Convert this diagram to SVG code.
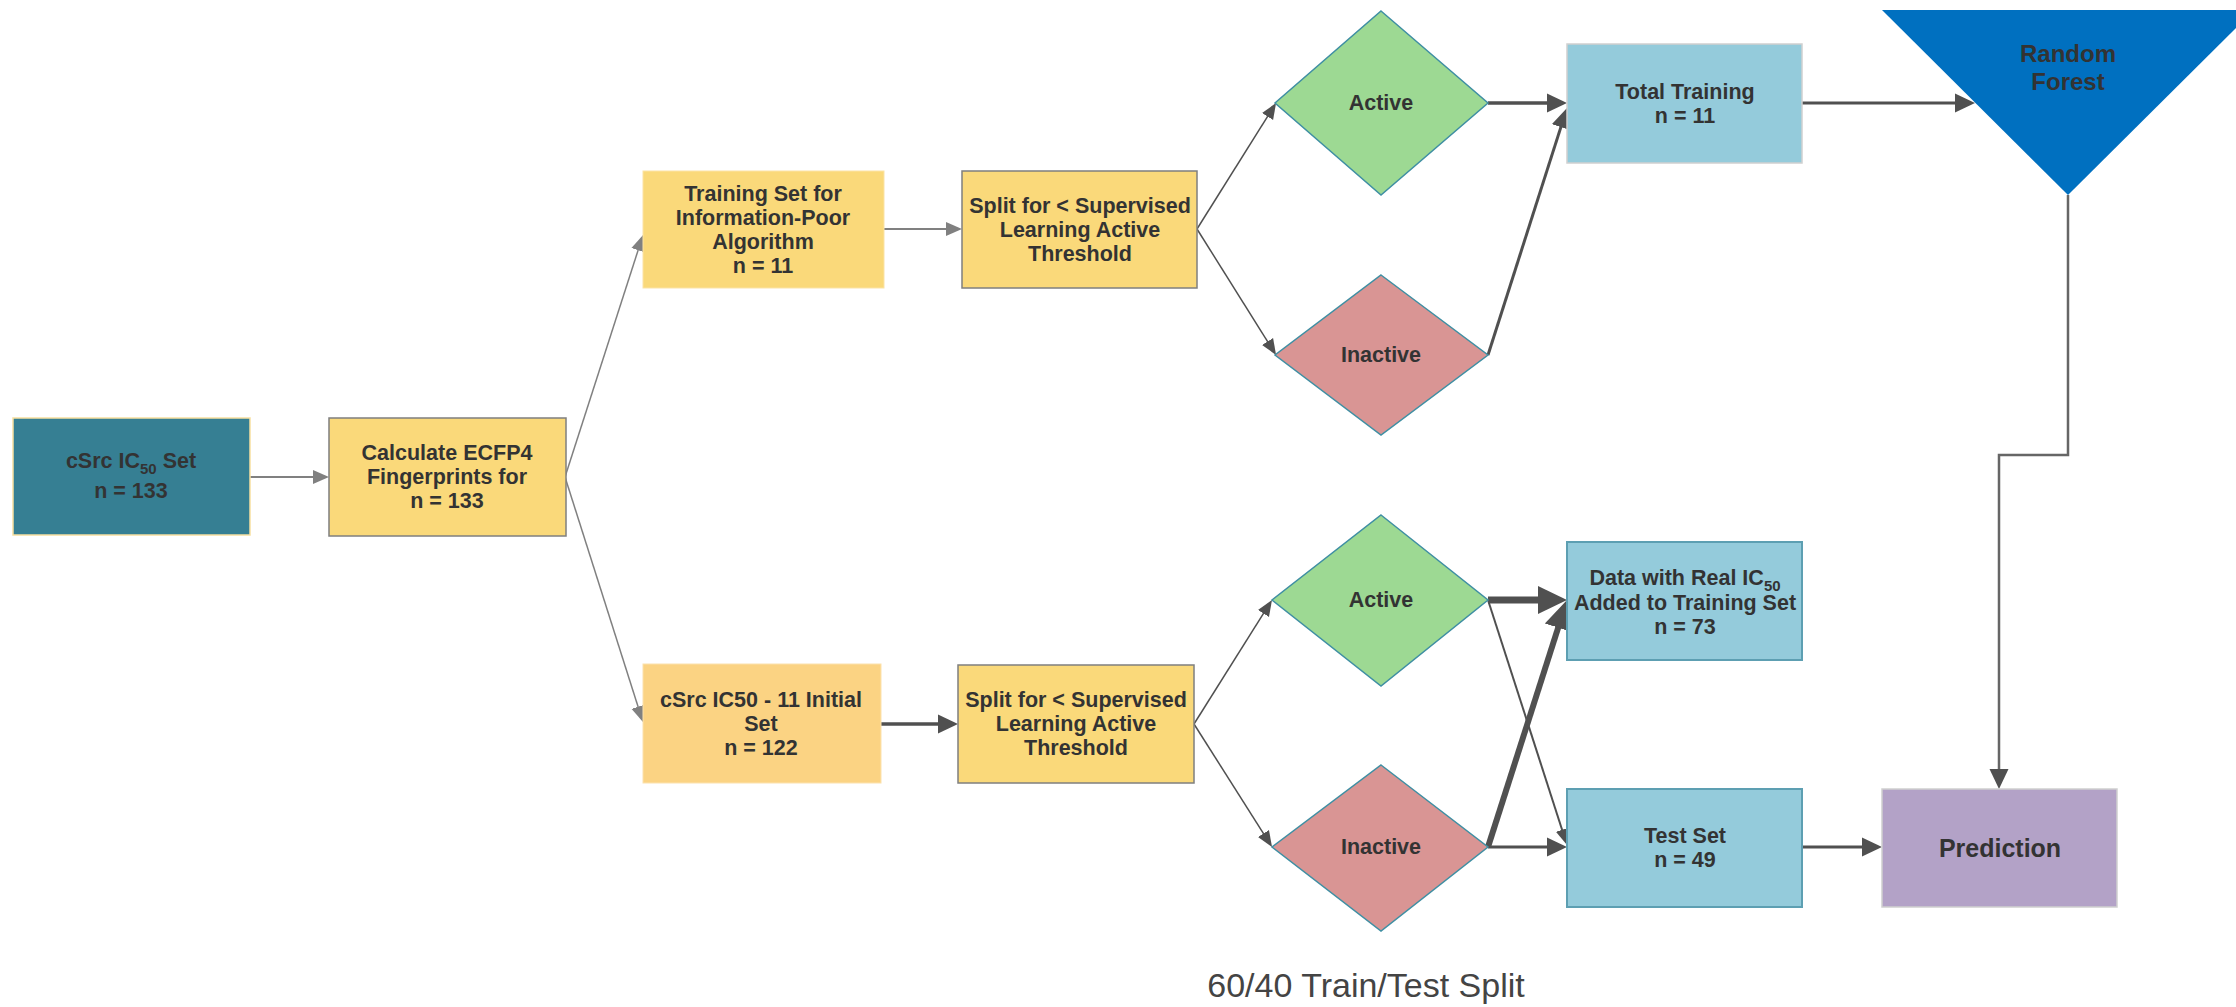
<svg xmlns="http://www.w3.org/2000/svg" width="2236" height="1007" viewBox="0 0 2236 1007">
<defs>
<style>
.t{font-family:"Liberation Sans",Arial,Helvetica,sans-serif;font-weight:bold;font-size:21.5px;fill:#333333;text-anchor:middle}
.sub{font-size:15px}
.big{font-size:25px}
.rf{font-size:24px}
.note{font-family:"Liberation Sans",Arial,Helvetica,sans-serif;font-size:34px;fill:#444444;text-anchor:middle}
.yb{fill:#fad97a}
.gs{stroke:#7f7f7f;stroke-width:1.5}
.lb{fill:#94cbdb}
.dia{stroke:#3f8fa3;stroke-width:1.5}
.c{fill:none}
.g{stroke:#808080}
.d{stroke:#505050}
</style>
<marker id="gS" markerUnits="userSpaceOnUse" viewBox="0 -8 17 16" markerWidth="17" markerHeight="16" refX="1" refY="0" orient="auto"><path d="M0,-7 L16,0 L0,7 z" fill="#808080"/></marker>
<marker id="dS" markerUnits="userSpaceOnUse" viewBox="0 -8 17 16" markerWidth="17" markerHeight="16" refX="1" refY="0" orient="auto"><path d="M0,-6.5 L16,0 L0,6.5 z" fill="#505050"/></marker>
<marker id="dM" markerUnits="userSpaceOnUse" viewBox="0 -10 21 20" markerWidth="21" markerHeight="20" refX="1" refY="0" orient="auto"><path d="M0,-9.5 L20,0 L0,9.5 z" fill="#505050"/></marker>
<marker id="dL" markerUnits="userSpaceOnUse" viewBox="0 -15 30 30" markerWidth="30" markerHeight="30" refX="1" refY="0" orient="auto"><path d="M0,-14 L29,0 L0,14 z" fill="#505050"/></marker>
</defs>
<rect width="2236" height="1007" fill="#ffffff"/>

<g id="connectors">
<line class="c g" stroke-width="2" x1="250" y1="477" x2="314" y2="477" marker-end="url(#gS)"/>
<line class="c g" stroke-width="1.5" x1="565" y1="477" x2="638.4" y2="249.3" marker-end="url(#gS)"/>
<line class="c g" stroke-width="1.5" x1="565" y1="477" x2="638.4" y2="707.7" marker-end="url(#gS)"/>
<line class="c g" stroke-width="2" x1="884" y1="229" x2="947" y2="229" marker-end="url(#gS)"/>
<line class="c d" stroke-width="3.5" x1="881" y1="724" x2="939" y2="724" marker-end="url(#dM)"/>
<line class="c d" stroke-width="1.5" x1="1197" y1="229" x2="1268.1" y2="115.7" marker-end="url(#dS)"/>
<line class="c d" stroke-width="1.5" x1="1197" y1="229" x2="1268.1" y2="342.3" marker-end="url(#dS)"/>
<line class="c d" stroke-width="3.5" x1="1488" y1="103" x2="1548" y2="103" marker-end="url(#dM)"/>
<line class="c d" stroke-width="3" x1="1488" y1="355" x2="1561.2" y2="126.1" marker-end="url(#dM)"/>
<line class="c d" stroke-width="3" x1="1802" y1="103" x2="1956" y2="103" marker-end="url(#dM)"/>
<path class="c" stroke="#666666" stroke-width="2.5" d="M2068,195 L2068,455 L1999,455 L1999,770" marker-end="url(#dM)"/>
<line class="c d" stroke-width="1.5" x1="1194" y1="724" x2="1264" y2="612.7" marker-end="url(#dS)"/>
<line class="c d" stroke-width="1.5" x1="1194" y1="724" x2="1264" y2="834.3" marker-end="url(#dS)"/>
<line class="c d" stroke-width="7" x1="1488" y1="600" x2="1539" y2="600" marker-end="url(#dL)"/>
<line class="c d" stroke-width="6" x1="1488" y1="847" x2="1558.5" y2="626.7" marker-end="url(#dL)"/>
<line class="c d" stroke-width="2" x1="1488" y1="600" x2="1562.4" y2="830.7" marker-end="url(#dS)"/>
<line class="c d" stroke-width="3" x1="1488" y1="847" x2="1548" y2="847" marker-end="url(#dM)"/>
<line class="c d" stroke-width="3" x1="1802" y1="847" x2="1863" y2="847" marker-end="url(#dM)"/>
</g>

<g id="csrc-set">
<rect x="13" y="418" width="237" height="117" fill="#367f93" stroke="#f7dfa0" stroke-width="1.5"/>
<text class="t" x="131" y="468">cSrc IC<tspan class="sub" dy="6">50</tspan><tspan dy="-6"> Set</tspan></text>
<text class="t" x="131" y="498">n = 133</text>
</g>

<g id="calc-ecfp4">
<rect class="yb gs" x="329" y="418" width="237" height="118"/>
<text class="t" x="447" y="460">Calculate ECFP4</text>
<text class="t" x="447" y="484">Fingerprints for</text>
<text class="t" x="447" y="508">n = 133</text>
</g>

<g id="training-set">
<rect x="643" y="171" width="241" height="117" fill="#fad97a" stroke="#fbe3a6" stroke-width="1"/>
<text class="t" x="763" y="200.5">Training Set for</text>
<text class="t" x="763" y="224.5">Information-Poor</text>
<text class="t" x="763" y="248.5">Algorithm</text>
<text class="t" x="763" y="272.5">n = 11</text>
</g>

<g id="split-top">
<rect class="yb gs" x="962" y="171" width="235" height="117"/>
<text class="t" x="1080" y="212.5">Split for &lt; Supervised</text>
<text class="t" x="1080" y="236.5">Learning Active</text>
<text class="t" x="1080" y="260.5">Threshold</text>
</g>

<g id="csrc-initial">
<rect x="643" y="664" width="238" height="119" fill="#fbd383" stroke="#fce2ae" stroke-width="1"/>
<text class="t" x="761" y="706.5">cSrc IC50 - 11 Initial</text>
<text class="t" x="761" y="730.5">Set</text>
<text class="t" x="761" y="754.5">n = 122</text>
</g>

<g id="split-bottom">
<rect class="yb gs" x="958" y="665" width="236" height="118"/>
<text class="t" x="1076" y="706.5">Split for &lt; Supervised</text>
<text class="t" x="1076" y="730.5">Learning Active</text>
<text class="t" x="1076" y="754.5">Threshold</text>
</g>

<g id="active-top">
<polygon class="dia" points="1381,11 1488,103 1381,195 1275,103" fill="#9dd993"/>
<text class="t" x="1381" y="110">Active</text>
</g>

<g id="inactive-top">
<polygon class="dia" points="1381,275 1488,355 1381,435 1275,355" fill="#d99594"/>
<text class="t" x="1381" y="362">Inactive</text>
</g>

<g id="active-bottom">
<polygon class="dia" points="1381,515 1488,600 1381,686 1272,600" fill="#9dd993"/>
<text class="t" x="1381" y="607">Active</text>
</g>

<g id="inactive-bottom">
<polygon class="dia" points="1381,765 1488,847 1381,931 1272,847" fill="#d99594"/>
<text class="t" x="1381" y="854">Inactive</text>
</g>

<g id="total-training">
<rect class="lb" x="1567" y="44" width="235" height="119" stroke="#d0d0d0" stroke-width="1.5"/>
<text class="t" x="1685" y="98.5">Total Training</text>
<text class="t" x="1685" y="122.5">n = 11</text>
</g>

<g id="random-forest">
<polygon points="1882,10 2254,10 2068,195" fill="#0070c0"/>
<text class="t rf" x="2068" y="62">Random</text>
<text class="t rf" x="2068" y="90">Forest</text>
</g>

<g id="real-ic50">
<rect class="lb" x="1567" y="542" width="235" height="118" stroke="#5d9fb2" stroke-width="2"/>
<text class="t" x="1685" y="585">Data with Real IC<tspan class="sub" dy="6">50</tspan></text>
<text class="t" x="1685" y="610">Added to Training Set</text>
<text class="t" x="1685" y="634">n = 73</text>
</g>

<g id="test-set">
<rect class="lb" x="1567" y="789" width="235" height="118" stroke="#5d9fb2" stroke-width="2"/>
<text class="t" x="1685" y="843">Test Set</text>
<text class="t" x="1685" y="867">n = 49</text>
</g>

<g id="prediction">
<rect x="1882" y="789" width="235" height="118" fill="#b3a2c7" stroke="#cfcfcf" stroke-width="1.5"/>
<text class="t big" x="2000" y="857">Prediction</text>
</g>

<text class="note" x="1366" y="997">60/40 Train/Test Split</text>
</svg>
